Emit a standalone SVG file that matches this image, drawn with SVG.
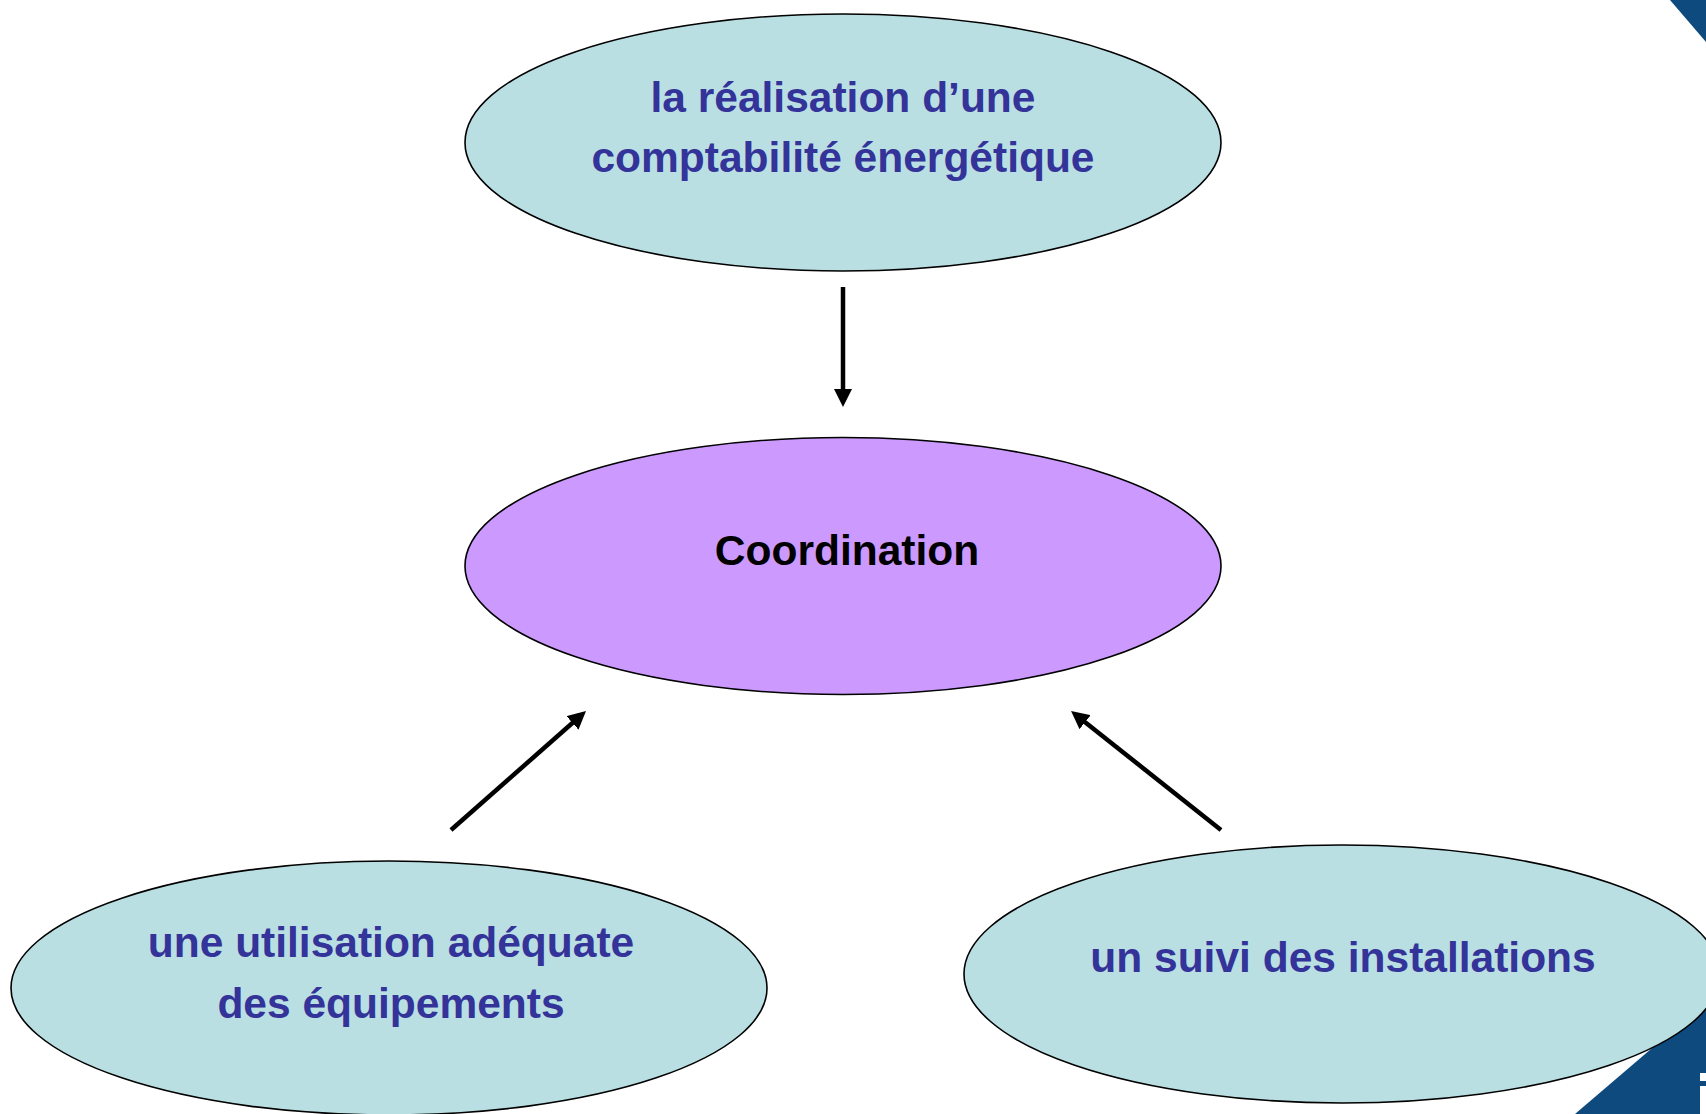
<svg xmlns="http://www.w3.org/2000/svg" width="1706" height="1114" viewBox="0 0 1706 1114">
  <defs>
    <marker id="arrow" markerUnits="userSpaceOnUse" markerWidth="18" markerHeight="18" refX="4" refY="9" orient="auto">
      <path d="M0,0 L18,9 L0,18 Z" fill="#000"/>
    </marker>
    <linearGradient id="glow" x1="0" y1="0" x2="1" y2="0">
      <stop offset="0" stop-color="#ffffff" stop-opacity="0"/>
      <stop offset="1" stop-color="#e8eef4" stop-opacity="1"/>
    </linearGradient>
  </defs>
  <style>
    .node { fill: #b9dfe3; stroke: #000; stroke-width: 1.6; }
    .center { fill: #cc99ff; stroke: #000; stroke-width: 1.6; }
    .lbl { font-family: "Liberation Sans", Arial, sans-serif; font-weight: bold; font-size: 42.5px; text-anchor: middle; fill: #333399; }
    .lblc { font-family: "Liberation Sans", Arial, sans-serif; font-weight: bold; font-size: 42.5px; text-anchor: middle; fill: #000; }
    .conn { stroke: #000; stroke-width: 4.5; fill: none; marker-end: url(#arrow); }
  </style>
  <rect width="1706" height="1114" fill="#ffffff"/>
  <g id="decor">
    <polygon points="1670,0 1706,0 1706,42" fill="#0e4a7e"/>
    <polygon points="1560,1114 1706,990 1706,1114" fill="url(#glow)" opacity="0.6"/>
    <polygon points="1575,1114 1706,1002 1706,1114" fill="#0e4a7e"/>
    <rect x="1700" y="1073" width="6" height="8" fill="#ffffff"/>
    <rect x="1700" y="1086" width="6" height="28" fill="#ffffff"/>
  </g>
  <g id="connectors">
    <line class="conn" x1="843" y1="287" x2="843" y2="393"/>
    <line class="conn" x1="451" y1="830" x2="575.5" y2="720.3"/>
    <line class="conn" x1="1221" y1="830" x2="1082" y2="719.7"/>
  </g>
  <g id="node-comptabilite">
    <ellipse class="node" cx="843" cy="142.5" rx="378" ry="128.5"/>
    <text class="lbl" x="843" y="111.7">la réalisation d’une</text>
    <text class="lbl" x="843" y="171.7">comptabilité énergétique</text>
  </g>
  <g id="node-coordination">
    <ellipse class="center" cx="843" cy="566" rx="378" ry="128.5"/>
    <text class="lblc" x="847" y="565">Coordination</text>
  </g>
  <g id="node-utilisation">
    <ellipse class="node" cx="389" cy="988" rx="378" ry="127"/>
    <text class="lbl" x="391" y="957">une utilisation adéquate</text>
    <text class="lbl" x="391" y="1018">des équipements</text>
  </g>
  <g id="node-suivi">
    <ellipse class="node" cx="1342" cy="974" rx="378" ry="129"/>
    <text class="lbl" x="1343" y="972">un suivi des installations</text>
  </g>
</svg>
